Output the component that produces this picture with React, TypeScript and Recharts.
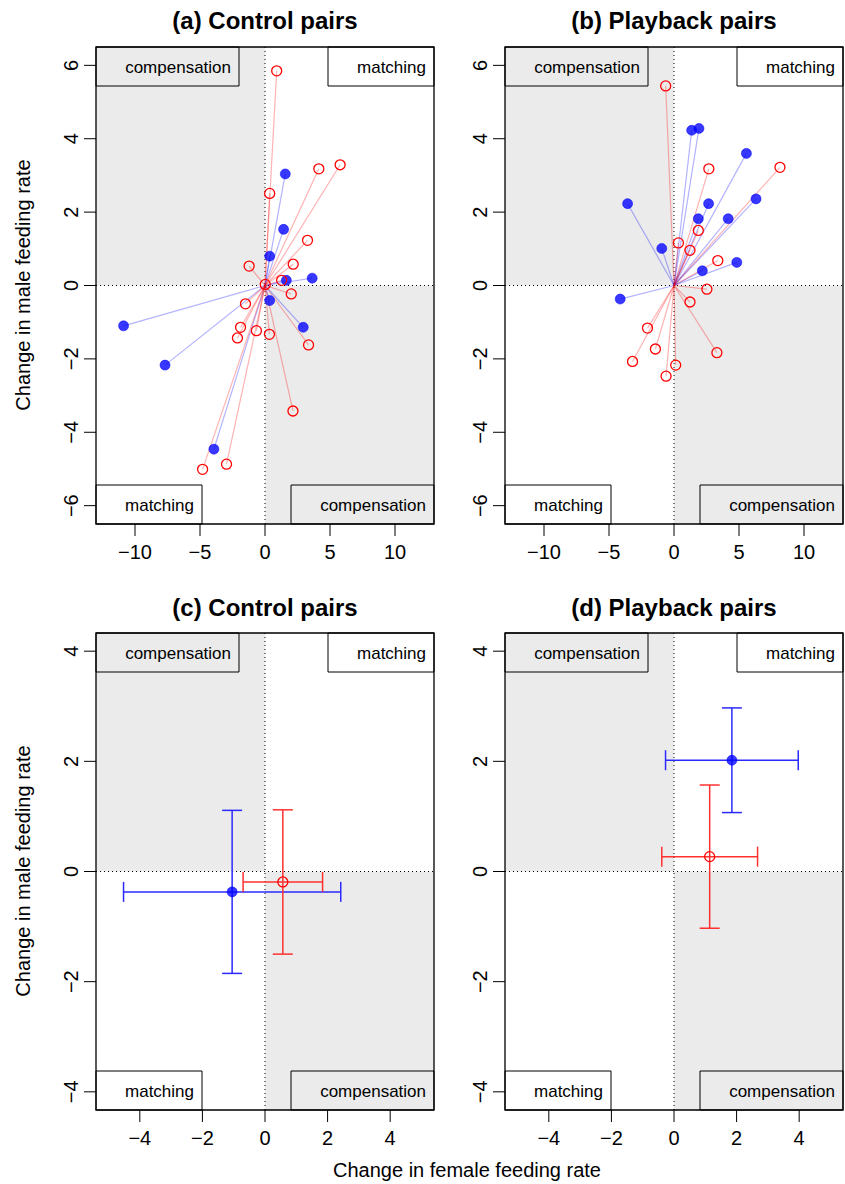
import React from 'react';
import {
  ScatterChart,
  Scatter,
  XAxis,
  YAxis,
  ReferenceArea,
  ReferenceLine,
  ErrorBar
} from 'recharts';

type Pt = { x: number; y: number };
type Mean = { x: number; y: number; ex: number; ey: number };

// (a) control pairs, individual changes (x = female, y = male)
const controlRed: Pt[] = [
  { x: 0.9, y: 5.85 }, { x: 4.14, y: 3.18 }, { x: 5.78, y: 3.29 }, { x: 0.36, y: 2.51 },
  { x: 3.27, y: 1.23 }, { x: 2.17, y: 0.58 }, { x: -1.22, y: 0.53 }, { x: 1.28, y: 0.14 },
  { x: 0.02, y: 0.03 }, { x: 2.02, y: -0.23 }, { x: -1.5, y: -0.5 }, { x: -1.88, y: -1.14 },
  { x: -0.66, y: -1.23 }, { x: 0.34, y: -1.33 }, { x: -2.12, y: -1.43 }, { x: 3.35, y: -1.62 },
  { x: 2.15, y: -3.42 }, { x: -4.8, y: -5.01 }, { x: -2.96, y: -4.87 }
];
const controlBlue: Pt[] = [
  { x: 1.56, y: 3.04 }, { x: 1.43, y: 1.53 }, { x: 0.36, y: 0.8 }, { x: 3.63, y: 0.2 },
  { x: 1.64, y: 0.14 }, { x: 0.36, y: -0.41 }, { x: -10.88, y: -1.1 }, { x: 2.94, y: -1.14 },
  { x: -7.69, y: -2.17 }, { x: -3.93, y: -4.46 }
];

// (b) playback pairs
const playbackRed: Pt[] = [
  { x: -0.64, y: 5.44 }, { x: 2.68, y: 3.18 }, { x: 8.15, y: 3.22 }, { x: 1.87, y: 1.5 },
  { x: 0.34, y: 1.16 }, { x: 1.23, y: 0.96 }, { x: 3.37, y: 0.68 }, { x: 2.53, y: -0.1 },
  { x: 1.23, y: -0.45 }, { x: -2.04, y: -1.16 }, { x: -1.43, y: -1.73 }, { x: -3.19, y: -2.07 },
  { x: 3.3, y: -1.83 }, { x: 0.13, y: -2.17 }, { x: -0.61, y: -2.47 }
];
const playbackBlue: Pt[] = [
  { x: 1.36, y: 4.23 }, { x: 1.92, y: 4.28 }, { x: 5.57, y: 3.6 }, { x: -3.57, y: 2.23 },
  { x: 2.66, y: 2.23 }, { x: 6.31, y: 2.36 }, { x: 1.87, y: 1.82 }, { x: 4.17, y: 1.82 },
  { x: -0.94, y: 1.01 }, { x: 4.83, y: 0.63 }, { x: 2.18, y: 0.4 }, { x: -4.14, y: -0.37 }
];

// (c) / (d) means with error (x and y)
const controlMeanRed: Mean[] = [{ x: 0.57, y: -0.19, ex: 1.27, ey: 1.31 }];
const controlMeanBlue: Mean[] = [{ x: -1.05, y: -0.37, ex: 3.47, ey: 1.48 }];
const playbackMeanRed: Mean[] = [{ x: 1.14, y: 0.27, ex: 1.53, ey: 1.3 }];
const playbackMeanBlue: Mean[] = [{ x: 1.85, y: 2.02, ex: 2.12, ey: 0.95 }];

const rawTicksX = [-10, -5, 0, 5, 10];
const rawTicksY = [-6, -4, -2, 0, 2, 4, 6];
const meanTicksX = [-4, -2, 0, 2, 4];
const meanTicksY = [-4, -2, 0, 2, 4];

const FONT = '"Liberation Sans", Arial, Helvetica, sans-serif';
const AXIS_W = 96;
const PLOT_W = 338;
const PLOT_H = 477;
const TOP = 47;
const XAXIS_H = 50;
const CHART_W = 436;
const CHART_H = 580;
const SHADE = '#EBEBEB';

const fmt = (v: number) => (v < 0 ? '\u2212' + Math.abs(v) : String(v));

const YTick = (p: any) => (
  <text
    x={71}
    y={p.y}
    transform={`rotate(-90, 71, ${p.y})`}
    textAnchor="middle"
    dominantBaseline="central"
    fontSize={20}
    fill="#000"
    fontFamily={FONT}
  >
    {fmt(p.payload.value)}
  </text>
);

const XTick = (p: any) => (
  <text x={p.x} y={TOP + PLOT_H + 28} textAnchor="middle" dominantBaseline="central" fontSize={20} fill="#000" fontFamily={FONT}>
    {fmt(p.payload.value)}
  </text>
);

const OpenCircle = (p: any) => (
  <circle cx={p.cx} cy={p.cy} r={5} fill="none" stroke="#FF0000" strokeWidth={1.3} />
);
const FilledCircle = (p: any) => (
  <circle cx={p.cx} cy={p.cy} r={5} fill="#0000FF" fillOpacity={0.78} stroke="#0000FF" strokeOpacity={0.5} strokeWidth={1} />
);

interface PanelProps {
  left: number;
  top: number;
  xDomain: [number, number];
  yDomain: [number, number];
  xTicks: number[];
  yTicks: number[];
  red: Pt[];
  blue: Pt[];
  segments?: boolean;
  errors?: boolean;
}

function Panel({ left, top, xDomain, yDomain, xTicks, yTicks, red, blue, segments, errors }: PanelProps) {
  const [x0, x1] = xDomain;
  const [y0, y1] = yDomain;
  // legend boxes are a fixed size in pixels
  const dx = (px: number) => (px * (x1 - x0)) / PLOT_W;
  const dy = (px: number) => (px * (y1 - y0)) / PLOT_H;
  const wide = dx(143);
  const narrow = dx(106);
  const h = dy(39);
  const lbl = (value: string) => ({
    value,
    position: 'insideRight' as const,
    offset: 8,
    fontSize: 17,
    fill: '#000',
    fontFamily: FONT
  });

  return (
    <div style={{ position: 'absolute', left, top }}>
      <ScatterChart
        width={CHART_W}
        height={CHART_H}
        margin={{ top: TOP, right: CHART_W - AXIS_W - PLOT_W, bottom: CHART_H - TOP - PLOT_H - XAXIS_H, left: 0 }}
      >
        <XAxis
          type="number"
          dataKey="x"
          domain={xDomain}
          ticks={xTicks}
          allowDataOverflow
          axisLine={false}
          tickLine={{ stroke: '#000' }}
          tickSize={12}
          height={XAXIS_H}
          tick={XTick}
          interval={0}
        />
        <YAxis
          type="number"
          dataKey="y"
          domain={yDomain}
          ticks={yTicks}
          allowDataOverflow
          axisLine={false}
          tickLine={{ stroke: '#000' }}
          tickSize={12}
          width={AXIS_W}
          tick={YTick}
          interval={0}
        />
        <ReferenceArea x1={x0} x2={0} y1={0} y2={y1} fill={SHADE} fillOpacity={1} stroke="none" />
        <ReferenceArea x1={0} x2={x1} y1={y0} y2={0} fill={SHADE} fillOpacity={1} stroke="none" />
        <ReferenceLine x={0} stroke="#000" strokeDasharray="1 3" strokeWidth={1} />
        <ReferenceLine y={0} stroke="#000" strokeDasharray="1 3" strokeWidth={1} />
        <ReferenceArea x1={x0} x2={x0 + wide} y1={y1 - h} y2={y1} fill={SHADE} fillOpacity={1} stroke="#000" strokeWidth={1} label={lbl('compensation')} />
        <ReferenceArea x1={x1 - narrow} x2={x1} y1={y1 - h} y2={y1} fill="#fff" fillOpacity={1} stroke="#000" strokeWidth={1} label={lbl('matching')} />
        <ReferenceArea x1={x0} x2={x0 + narrow} y1={y0} y2={y0 + h} fill="#fff" fillOpacity={1} stroke="#000" strokeWidth={1} label={lbl('matching')} />
        <ReferenceArea x1={x1 - wide} x2={x1} y1={y0} y2={y0 + h} fill={SHADE} fillOpacity={1} stroke="#000" strokeWidth={1} label={lbl('compensation')} />
        {segments &&
          blue.map((p, i) => (
            <ReferenceLine key={'b' + i} segment={[{ x: 0, y: 0 }, { x: p.x, y: p.y }]} stroke="#0000FF" strokeOpacity={0.3} strokeWidth={1.2} />
          ))}
        {segments &&
          red.map((p, i) => (
            <ReferenceLine key={'r' + i} segment={[{ x: 0, y: 0 }, { x: p.x, y: p.y }]} stroke="#FF0000" strokeOpacity={0.3} strokeWidth={1.2} />
          ))}
        <ReferenceArea x1={x0} x2={x1} y1={y0} y2={y1} fill="none" fillOpacity={0} stroke="#000" strokeWidth={1.3} />
        <Scatter data={blue} isAnimationActive={false} shape={FilledCircle}>
          {errors && <ErrorBar dataKey="ex" direction="x" width={10} stroke="#2A2AFF" strokeWidth={1.5} />}
          {errors && <ErrorBar dataKey="ey" direction="y" width={10} stroke="#2A2AFF" strokeWidth={1.5} />}
        </Scatter>
        <Scatter data={red} isAnimationActive={false} shape={OpenCircle}>
          {errors && <ErrorBar dataKey="ex" direction="x" width={10} stroke="#FF3030" strokeWidth={1.5} />}
          {errors && <ErrorBar dataKey="ey" direction="y" width={10} stroke="#FF3030" strokeWidth={1.5} />}
        </Scatter>
      </ScatterChart>
    </div>
  );
}

export default function App() {
  const rawX: [number, number] = [-13, 13];
  const rawY: [number, number] = [-6.5, 6.5];
  const meanX: [number, number] = [-5.4, 5.4];
  const meanY: [number, number] = [-4.33, 4.33];
  const topRow = 0;
  const bottomRow = 586;

  return (
    <div style={{ position: 'absolute', left: 0, top: 0, width: 845, height: 1184, overflow: 'hidden', background: '#fff', fontFamily: FONT }}>
      <Panel left={0} top={topRow} xDomain={rawX} yDomain={rawY} xTicks={rawTicksX} yTicks={rawTicksY} red={controlRed} blue={controlBlue} segments />
      <Panel left={409} top={topRow} xDomain={rawX} yDomain={rawY} xTicks={rawTicksX} yTicks={rawTicksY} red={playbackRed} blue={playbackBlue} segments />
      <Panel left={0} top={bottomRow} xDomain={meanX} yDomain={meanY} xTicks={meanTicksX} yTicks={meanTicksY} red={controlMeanRed} blue={controlMeanBlue} errors />
      <Panel left={409} top={bottomRow} xDomain={meanX} yDomain={meanY} xTicks={meanTicksX} yTicks={meanTicksY} red={playbackMeanRed} blue={playbackMeanBlue} errors />
      <svg width={845} height={1184} style={{ position: 'absolute', left: 0, top: 0, pointerEvents: 'none' }}>
        <g fontFamily={FONT} fill="#000">
          <text x={265} y={29} textAnchor="middle" fontSize={24} fontWeight="bold">(a) Control pairs</text>
          <text x={674} y={29} textAnchor="middle" fontSize={24} fontWeight="bold">(b) Playback pairs</text>
          <text x={265} y={616} textAnchor="middle" fontSize={24} fontWeight="bold">(c) Control pairs</text>
          <text x={674} y={616} textAnchor="middle" fontSize={24} fontWeight="bold">(d) Playback pairs</text>
          <text x={23} y={285} transform="rotate(-90, 23, 285)" textAnchor="middle" dominantBaseline="central" fontSize={20}>Change in male feeding rate</text>
          <text x={23} y={871} transform="rotate(-90, 23, 871)" textAnchor="middle" dominantBaseline="central" fontSize={20}>Change in male feeding rate</text>
          <text x={467} y={1170} textAnchor="middle" dominantBaseline="central" fontSize={20}>Change in female feeding rate</text>
        </g>
      </svg>
    </div>
  );
}
